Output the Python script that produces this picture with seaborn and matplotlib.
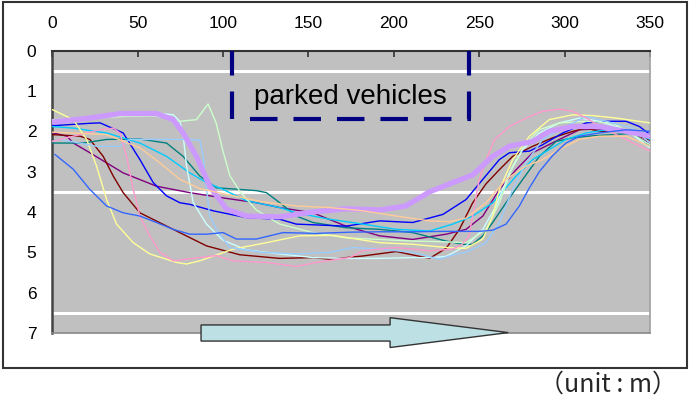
import matplotlib
matplotlib.use("Agg")
import matplotlib.pyplot as plt
import seaborn as sns
from matplotlib.patches import Rectangle, Polygon

# ---- trajectories: distance along road (m) vs lateral position (m) ----
blue_x = [0, 22, 28, 41.5, 51.3, 59.1, 66.9, 74.7, 80.5, 94.2, 113.7, 133.2, 142.9, 172, 191.6, 211,
          228.7, 242.3, 252.1, 261.8, 267.7, 279.4, 287.2, 298.9, 312.6, 324.3, 336, 343.8, 350]
blue_y = [1.86, 1.8, 1.79, 2.04, 2.7, 3.27, 3.6, 3.77, 3.81, 3.97, 4.14, 4.18, 4.3, 4.35, 4.22, 4.26,
          4.06, 3.69, 3.19, 2.7, 2.53, 2.49, 2.33, 2.04, 1.79, 1.75, 1.75, 1.88, 2.08]

darkred_x = [0, 16.2, 22, 29.8, 35.7, 41.5, 51.3, 70.8, 90.3, 109.8, 133.2, 152.6, 162.4, 181.9, 201.4,
             220.9, 230.6, 238.4, 246.2, 254, 261.8, 269.6, 281.3, 293, 304.7, 312.6, 320.4, 336, 350]
darkred_y = [2.08, 2.12, 2.2, 2.62, 3.11, 3.52, 4.02, 4.43, 4.84, 5.06, 5.15, 5.13, 5.17, 5.09, 4.98,
             5.15, 4.9, 4.43, 3.77, 3.3, 2.95, 2.62, 2.37, 2.16, 2.0, 1.92, 2.0, 2.0, 2.22]

purple_x = [0, 8.5, 12.3, 22, 41.5, 61, 80.5, 100, 119.5, 133.2, 152.6, 172, 191.6, 211, 230.6, 242.3,
            252.1, 261.8, 271.6, 281.3, 296.9, 308.7, 320.4, 336, 350]
purple_y = [2.03, 2.12, 2.29, 2.53, 3.03, 3.36, 3.52, 3.65, 3.77, 3.89, 4.02, 4.35, 4.59, 4.68, 4.55, 4.43,
            4.1, 3.44, 2.95, 2.53, 2.2, 1.96, 1.94, 2.0, 2.3]

teal_x = [0, 18, 31.8, 51.3, 66.9, 76.6, 86.4, 96.1, 109.8, 119.5, 125.4, 133.2, 142.9, 152.6, 172, 191.6,
          211, 230.6, 240.4, 246.2, 252.1, 257.9, 265.7, 275.5, 285.2, 295, 304.7, 316.5, 328.2, 339.9, 350]
teal_y = [2.29, 2.29, 2.2, 2.19, 2.29, 2.62, 3.11, 3.4, 3.44, 3.47, 3.52, 3.77, 4.1, 4.26, 4.39, 4.43,
          4.51, 4.72, 4.8, 4.8, 4.59, 4.26, 3.77, 3.19, 2.62, 2.25, 2.16, 2.11, 2.08, 2.05, 2.35]

cyan_x = [0, 12.3, 31.8, 51.3, 66.9, 80.5, 90.3, 100, 113.7, 133.2, 142.9, 162.4, 181.9, 201.4, 220.9,
          234.5, 246.2, 257.9, 271.6, 281.3, 291, 300.8, 312.6, 324.3, 338, 350]
cyan_y = [1.88, 1.92, 2.04, 2.29, 2.62, 3.03, 3.27, 3.44, 3.72, 3.89, 4.02, 4.18, 4.3, 4.43, 4.47,
          4.3, 4.1, 3.77, 3.11, 2.7, 2.45, 2.2, 2.04, 1.96, 1.96, 2.2]

lightcyan_x = [0, 20, 45, 61, 70.8, 74.7, 76.6, 78.6, 82.5, 90.3, 100, 113.7, 133.2, 152.6, 172, 191.6,
               211, 222.8, 230.6, 242.3, 252.1, 259.9, 267.7, 275.5, 285.2, 296.9, 308.7, 320.4, 336, 350]
lightcyan_y = [1.75, 1.68, 1.6, 1.55, 1.59, 1.75, 2.1, 2.85, 3.77, 4.3, 4.7, 4.94, 5.04, 5.13, 5.15, 5.15,
               5.13, 5.13, 5.1, 4.84, 4.43, 3.85, 3.03, 2.45, 2.04, 1.79, 1.67, 1.75, 1.96, 2.41]

lightgreen_x = [0, 20, 41.5, 60, 66.9, 74.7, 84.4, 91.2, 96, 100, 104, 110, 119.5, 133.2, 152.6, 172,
                191.6, 211, 230.6, 242.3, 254, 261.8, 269.6, 277.4, 285.2, 296.9, 312.6, 328.2, 350]
lightgreen_y = [1.71, 1.68, 1.63, 1.62, 1.67, 1.75, 1.71, 1.32, 1.8, 2.5, 3.1, 3.5, 3.95, 4.3, 4.51, 4.64,
                4.68, 4.72, 4.74, 4.76, 4.43, 3.77, 2.86, 2.29, 1.96, 1.79, 1.75, 1.79, 2.33]

yellow_x = [0, 12.3, 20.1, 25.9, 31.8, 37.6, 47.4, 57.1, 72.7, 78.6, 86.4, 105.9, 125.4, 144.9, 164.4,
            191.6, 211, 230.6, 242.3, 252.1, 257.9, 261.8, 269.6, 279.4, 291, 304.7, 316.5, 330.1, 350]
yellow_y = [1.46, 1.71, 2.2, 2.86, 3.69, 4.3, 4.76, 5.04, 5.25, 5.29, 5.21, 4.92, 4.76, 4.59, 4.58,
            4.76, 4.8, 4.88, 4.9, 4.67, 4.1, 3.44, 2.7, 2.12, 1.71, 1.59, 1.61, 1.67, 1.79]

lightblue_x = [0, 4.5, 25.9, 39.6, 45.4, 80.5, 86.4, 88.3, 90.3, 92.2, 96.1, 103.9, 123.5, 142.9, 162.4,
               176, 191.6, 211, 226.7, 236.5, 242.3, 254, 261.8, 269.6, 277.4, 287.2, 300.8, 312.6,
               324.3, 339.9, 350]
lightblue_y = [2.25, 2.2, 2.37, 2.37, 2.2, 2.2, 2.22, 2.62, 3.44, 4.1, 4.43, 4.88, 5.0, 5.04, 5.0,
               4.88, 4.92, 5.0, 5.17, 5.04, 5.0, 4.76, 4.26, 3.44, 2.78, 2.2, 1.88, 1.63,
               1.75, 1.92, 2.29]

pink_x = [0, 12.3, 27.9, 35.7, 39.6, 43.5, 47.4, 51.3, 57.1, 63, 70.8, 86.4, 96.1, 105.9, 125.4, 142.9,
          154.6, 174.1, 181.9, 201.4, 220.9, 234.5, 240, 244, 247, 250, 254, 259, 267.7, 277.4, 287.2,
          296.9, 304.7, 312.6, 324.3, 336, 350]
pink_y = [2.25, 2.12, 1.96, 1.92, 2.04, 2.62, 3.44, 4.1, 4.59, 5.0, 5.21, 5.13, 5.08, 5.21, 5.25, 5.35,
          5.25, 5.13, 4.96, 4.88, 4.96, 4.92, 4.8, 4.6, 3.9, 3.2, 2.7, 2.2, 1.88, 1.67, 1.5,
          1.45, 1.5, 1.67, 1.96, 2.2, 2.49]

lavender_x = [0, 20, 39.6, 61, 70.8, 76.6, 84.4, 92.2, 102, 113.7, 133, 152.6, 172, 191.6, 207, 220.9,
              234.5, 246.2, 257.9, 267.7, 281.3, 291, 304.7, 320.4, 336, 350]
lavender_y = [1.77, 1.68, 1.56, 1.56, 1.71, 2.04, 2.62, 3.36, 3.93, 4.1, 4.12, 4.0, 3.92, 3.95, 3.85, 3.5,
              3.27, 3.08, 2.62, 2.37, 2.25, 2.0, 1.88, 1.88, 2.0, 2.12]

orange_x = [0, 31.8, 51.3, 63, 74.7, 86.4, 103.9, 123.5, 142.9, 162.4, 181.9, 201.4, 220.9, 232.6, 242.3,
            254, 265.7, 277.4, 287.2, 296.9, 308.7, 320.4, 336, 350]
orange_y = [2.02, 2.08, 2.41, 2.78, 3.19, 3.42, 3.58, 3.75, 3.85, 3.89, 3.97, 4.1, 4.22, 4.24, 4.15,
            3.77, 3.19, 2.86, 2.7, 2.45, 2.2, 2.12, 2.12, 2.37]

royal_x = [1.5, 12.3, 22, 31.8, 41.5, 51.3, 61, 70.8, 80.5, 90.3, 100, 107.8, 119.5, 135.1, 154.6, 174.1,
           191.6, 211, 230, 250, 257.9, 265.7, 273.5, 279.4, 285.2, 293, 300.8, 308.7, 320.4, 336, 350]
royal_y = [2.57, 2.94, 3.44, 3.85, 4.02, 4.1, 4.26, 4.43, 4.55, 4.55, 4.51, 4.67, 4.67, 4.51, 4.53, 4.5,
           4.49, 4.49, 4.48, 4.48, 4.45, 4.3, 3.85, 3.4, 3.0, 2.6, 2.29, 2.12, 2.04, 1.96, 2.0]

# series in drawing order: (x, y, colour, line width)
series = [
    (purple_x, purple_y, "#800080", 1.0),
    (darkred_x, darkred_y, "#800000", 1.0),
    (teal_x, teal_y, "#008080", 1.0),
    (blue_x, blue_y, "#0000FF", 1.0),
    (cyan_x, cyan_y, "#00CCFF", 1.0),
    (lightcyan_x, lightcyan_y, "#CCFFFF", 1.0),
    (lightgreen_x, lightgreen_y, "#CCFFCC", 1.0),
    (yellow_x, yellow_y, "#FFFF99", 1.0),
    (lightblue_x, lightblue_y, "#99CCFF", 1.0),
    (pink_x, pink_y, "#FF99CC", 1.0),
    (lavender_x, lavender_y, "#CC99FF", 3.8),
    (orange_x, orange_y, "#FFCC99", 1.0),
    (royal_x, royal_y, "#3366FF", 1.0),
]

lane_lines = [0.5, 3.5, 6.5]
x_ticks = [0, 50, 100, 150, 200, 250, 300, 350]
y_ticks = [0, 1, 2, 3, 4, 5, 6, 7]

sns.set_theme(style="white")
plt.rcParams["font.family"] = ["Liberation Sans", "DejaVu Sans"]
plt.rcParams["lines.scale_dashes"] = False

W, H = 689, 400
fig = plt.figure(figsize=(W / 100, H / 100), dpi=100)
ax = fig.add_axes([52.3 / W, 1 - 333 / H, 597.7 / W, 282.3 / H])
ax.set_facecolor("#C0C0C0")

for y in lane_lines:
    ax.axhline(y, color="white", lw=2.2, zorder=1)

for xs, ys, col, lw in series:
    sns.lineplot(x=xs, y=ys, sort=False, estimator=None, color=col, linewidth=lw,
                 ax=ax, legend=False, zorder=3)

ax.set_xlim(0, 350)
ax.set_ylim(7, 0)
ax.set_xticks(x_ticks)
ax.set_yticks(y_ticks)
ax.set_xlabel("")
ax.set_ylabel("")
ax.xaxis.tick_top()
ax.tick_params(axis="x", direction="in", length=4, width=1.2, color="#333333",
               labelsize=12.5, pad=14, top=True, bottom=False, labelcolor="black")
ax.tick_params(axis="y", direction="in", length=5.5, width=1.2, color="#333333",
               labelsize=12.5, pad=11.5, labelcolor="black")

for side, col, lw in [("top", "#333333", 1.5), ("left", "#444444", 1.8),
                      ("right", "#A0A0A0", 1.2), ("bottom", "#888888", 1.2)]:
    ax.spines[side].set_visible(True)
    ax.spines[side].set_color(col)
    ax.spines[side].set_linewidth(lw)

# parked-vehicle zone: dashed outline (top edge runs off the plot)
box_left, box_right, box_bottom = 105.3, 243.9, 1.69
dash = (0, (19.8, 11.5))
ax.plot([box_left, box_left], [box_bottom, -0.5], color="#000080", lw=3, ls=dash, zorder=4)
ax.plot([box_right, box_right], [box_bottom, -0.5], color="#000080", lw=3, ls=dash, zorder=4)
ax.plot([115.7, box_right + 1.0], [box_bottom, box_bottom], color="#000080", lw=3, ls=dash, zorder=4)
ax.text(174.6, 1.16, "parked vehicles", ha="center", va="center", fontsize=20,
        color="black", zorder=5)

# travel-direction arrow below the lanes
arrow = Polygon([(87.1, 6.80), (197.8, 6.80), (197.8, 6.62), (267.0, 6.99),
                 (197.8, 7.36), (197.8, 7.20), (87.1, 7.20)], closed=True,
                facecolor="#BCE0E3", edgecolor="#333333", lw=1.0, clip_on=False, zorder=6)
ax.add_patch(arrow)

# outer frame
fig.patches.append(Rectangle((3 / W, 1 - 367.7 / H), 683.5 / W, 366 / H, transform=fig.transFigure,
                             fill=False, edgecolor="#333333", lw=1.5))
fig.text(608 / W, 1 - 385 / H, "（unit : m）", ha="center", va="center", fontsize=18,
         family=["Noto Sans CJK JP", "DejaVu Sans"])

fig.savefig("out.png", dpi=100)
